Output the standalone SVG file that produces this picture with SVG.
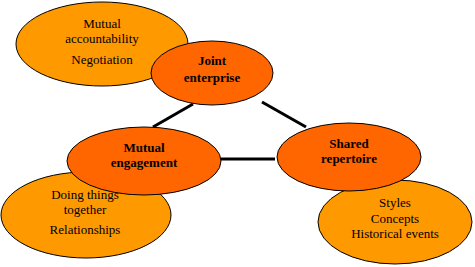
<svg xmlns="http://www.w3.org/2000/svg" width="475" height="267" viewBox="0 0 475 267">
<style>
.lt{fill:#FF9900;stroke:#000;stroke-width:1}
.dk{fill:#FF6600;stroke:#000;stroke-width:1}
text{font-family:"Liberation Serif","Times New Roman",serif;font-size:13px;fill:#000;text-anchor:middle}
.b{font-weight:bold}
.c{stroke:#000;stroke-width:3;fill:none}
</style>
<rect width="475" height="267" fill="#fff"/>
<g id="connectors">
<line class="c" x1="193" y1="104" x2="153" y2="127"/>
<line class="c" x1="262" y1="102" x2="306" y2="127"/>
<line class="c" x1="221" y1="159" x2="275" y2="159"/>
</g>
<g id="accountability">
<ellipse class="lt" cx="102" cy="44" rx="86" ry="42"/>
<text x="102" y="28">Mutual</text>
<text x="102" y="43">accountability</text>
<text x="102" y="64">Negotiation</text>
</g>
<g id="doing">
<ellipse class="lt" cx="86" cy="215" rx="85" ry="43"/>
<text x="85" y="199">Doing things</text>
<text x="85" y="214">together</text>
<text x="85" y="234">Relationships</text>
</g>
<g id="styles">
<ellipse class="lt" cx="395" cy="222" rx="77" ry="42"/>
<text x="395" y="207">Styles</text>
<text x="395" y="223">Concepts</text>
<text x="395" y="238">Historical events</text>
</g>
<g id="joint">
<ellipse class="dk" cx="212" cy="73" rx="61" ry="32"/>
<text class="b" x="212" y="65">Joint</text>
<text class="b" x="212" y="82">enterprise</text>
</g>
<g id="engagement">
<ellipse class="dk" cx="144" cy="161" rx="77" ry="34"/>
<text class="b" x="144" y="152">Mutual</text>
<text class="b" x="144" y="167">engagement</text>
</g>
<g id="repertoire">
<ellipse class="dk" cx="349" cy="157" rx="72" ry="34"/>
<text class="b" x="349" y="148">Shared</text>
<text class="b" x="349" y="163">repertoire</text>
</g>
</svg>
